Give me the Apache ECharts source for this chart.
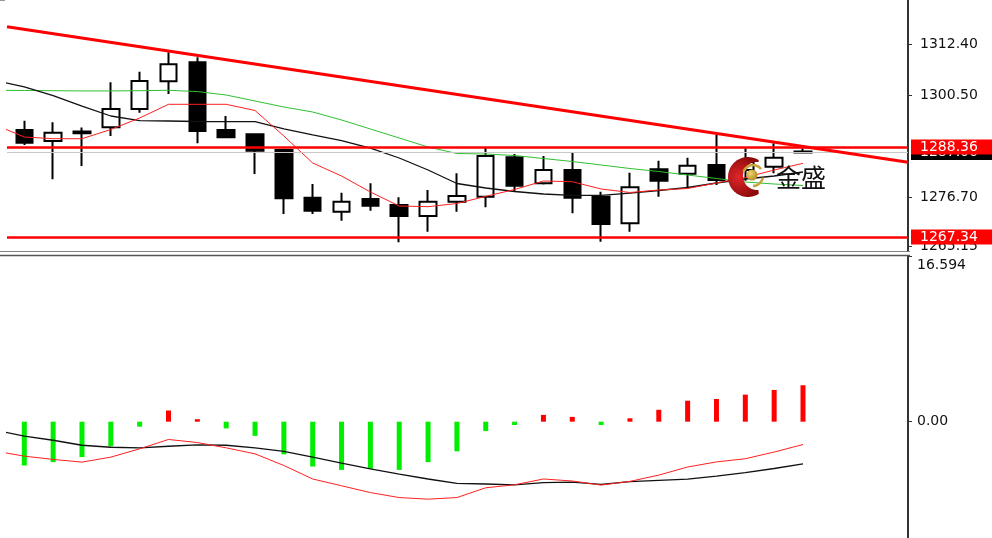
<!DOCTYPE html>
<html><head><meta charset="utf-8">
<script src="https://cdn.jsdelivr.net/npm/echarts@6/dist/echarts.min.js"></script>
<style>html,body{margin:0;padding:0;background:#fff}#c{width:992px;height:538px}</style>
</head><body><div id="c"></div>
<script>
// ---- data ----
const candleIndex = [0,1,2,3,4,5,6,7,8,9,10,11,12,13,14,15,16,17,18,19,20,21,22,23,24,25,26,27];
const opens  = [1292.33,1289.77,1292.00,1292.96,1297.23,1303.70,1308.13,1292.33,1291.33,1287.67,1276.54,1273.27,1276.24,1274.84,1272.27,1275.60,1276.77,1285.97,1279.90,1283.00,1276.77,1270.57,1283.16,1282.14,1284.17,1283.00,1283.77,1287.30];
const closes = [1289.37,1291.70,1291.60,1297.23,1303.77,1307.66,1292.10,1290.63,1287.50,1276.40,1273.50,1275.60,1274.67,1272.27,1275.60,1276.94,1286.27,1279.34,1283.00,1276.54,1270.40,1278.97,1280.50,1284.00,1280.67,1284.90,1285.87,1287.06];
const lows   = [1288.83,1280.83,1283.93,1290.93,1296.37,1300.73,1289.23,1290.40,1282.07,1272.74,1272.74,1271.17,1273.50,1266.13,1268.60,1273.27,1274.30,1277.94,1279.60,1272.90,1266.27,1268.60,1276.77,1278.73,1279.50,1280.50,1282.23,1287.00];
const highs  = [1294.50,1294.13,1292.90,1303.46,1305.94,1310.46,1309.30,1295.60,1291.40,1287.97,1279.74,1277.70,1279.90,1276.63,1278.34,1282.23,1288.30,1286.74,1286.27,1287.04,1277.94,1282.37,1285.17,1285.87,1291.17,1288.07,1289.23,1288.10];

// moving averages (index -1 is the bar just off the left edge)
const maIndex = [-1,0,1,2,3,4,5,6,7,8,9,10,11,12,13,14,15,16,17,18,19,20,21,22,23,24,25,26,27];
const maFast  = [1293.50,1290.70,1290.30,1290.30,1292.45,1295.13,1298.33,1298.33,1298.33,1296.88,1290.93,1284.63,1281.60,1277.87,1274.60,1274.44,1275.18,1276.86,1278.45,1280.43,1280.27,1278.57,1277.75,1278.33,1278.68,1279.97,1281.25,1283.00,1284.56];
const maMid   = [1303.88,1302.37,1300.38,1297.93,1295.60,1294.50,1294.43,1294.32,1294.27,1294.27,1292.57,1291.17,1289.88,1288.13,1285.80,1283.00,1279.85,1278.80,1277.98,1277.40,1277.10,1277.10,1277.60,1278.22,1278.92,1279.97,1280.90,1281.60,1282.53];
const maSlow  = [1301.60,1301.55,1301.50,1301.45,1301.45,1301.50,1301.60,1301.30,1300.50,1299.10,1297.70,1296.53,1294.67,1292.57,1290.47,1288.37,1286.85,1286.73,1286.38,1285.68,1284.98,1284.17,1283.35,1282.65,1281.83,1281.02,1280.20,1279.73,1279.38];

// trend line end points and horizontal levels
const trendX = [-0.6, 30.641];
const trendY = [1316.44, 1284.80];
const levelPrices = [1288.36, 1267.34];
const bidPrice = 1287.06;
const priceTicks = [1312.40, 1300.50, 1276.70, 1265.15];

// MACD panel
const macdHist   = [-4.39,-4.05,-3.55,-2.46,-0.50,1.12,0.25,-0.67,-1.42,-3.27,-4.49,-4.83,-4.72,-4.83,-4.05,-2.97,-0.94,-0.33,0.68,0.48,-0.33,0.34,1.19,2.10,2.27,2.71,3.18,3.65];
const macdMain   = [-0.84,-1.45,-1.86,-2.36,-2.56,-2.62,-2.46,-2.33,-2.36,-2.62,-2.97,-3.55,-4.14,-4.72,-5.25,-5.74,-6.18,-6.24,-6.32,-6.11,-6.06,-6.28,-6.01,-5.88,-5.76,-5.45,-5.10,-4.69,-4.22];
const macdSignal = [-2.95,-3.45,-3.78,-4.05,-3.55,-2.72,-1.78,-2.09,-2.62,-3.22,-4.39,-5.74,-6.42,-7.10,-7.60,-7.76,-7.60,-6.62,-6.32,-5.74,-5.94,-6.35,-5.98,-5.35,-4.54,-4.03,-3.71,-3.04,-2.29];
const macdTicks = [16.594, 0];
const macdTickLabels = ['16.594', '0.00'];

// ---- chart ----
const X_MIN = -0.6, X_MAX = 30.641;
const FONT = 'DejaVu Sans';
const pair = (xs, ys) => xs.map((x, i) => [x, ys[i]]);
const candleData = candleIndex.map((x, i) => [x, opens[i], closes[i], lows[i], highs[i]]);

// crescent outline for the watermark logo (decoration only)
function crescentPoints(cx, cy, R, icx, icy, r, a0) {
  const pts = [];
  const n = 48;
  for (let k = 0; k <= n; k++) {
    const ang = -a0 - k * (2 * Math.PI - 2 * a0) / n;
    pts.push([cx + R * Math.cos(ang), cy + R * Math.sin(ang)]);
  }
  const end = pts[pts.length - 1], start = pts[0];
  const b1 = Math.atan2(end[1] - icy, end[0] - icx);
  const b0 = Math.atan2(start[1] - icy, start[0] - icx);
  let span = b0 - b1; if (span < 0) span += 2 * Math.PI;
  for (let k = 0; k <= n; k++) {
    const ang = b1 + span * k / n;
    pts.push([icx + r * Math.cos(ang), icy + r * Math.sin(ang)]);
  }
  return pts;
}

const chart = echarts.init(document.getElementById('c'), null, {renderer: 'canvas', width: 992, height: 538});

const redLabel = {
  show: true, position: 'end', distance: 3,
  formatter: p => Number(p.value).toFixed(2),
  color: '#ffffff', backgroundColor: '#ff0000',
  fontFamily: FONT, fontSize: 14, lineHeight: 14, padding: [1, 20, 0, 9]
};

const option = {
  animation: false,
  backgroundColor: '#ffffff',
  grid: [
    {left: 7, right: 84, top: 0, height: 251, outerBoundsMode: 'none'},
    {left: 7, right: 84, top: 256, height: 282, outerBoundsMode: 'none'}
  ],
  xAxis: [
    {type: 'value', gridIndex: 0, min: X_MIN, max: X_MAX, show: false},
    {type: 'value', gridIndex: 1, min: X_MIN, max: X_MAX, show: false}
  ],
  yAxis: [
    {
      type: 'value', gridIndex: 0, position: 'right', min: 1264.10, max: 1322.667,
      splitLine: {show: false},
      axisLine: {show: true, onZero: false, lineStyle: {color: '#333333', width: 2}},
      axisTick: {show: true, customValues: priceTicks, length: 4, lineStyle: {color: '#333333', width: 1}},
      axisLabel: {customValues: priceTicks, formatter: v => v.toFixed(2), color: '#111111',
                  fontFamily: FONT, fontSize: 14, margin: 12}
    },
    {
      type: 'value', gridIndex: 1, position: 'right', min: -11.65, max: 16.594,
      splitLine: {show: false},
      axisLine: {show: true, onZero: false, lineStyle: {color: '#333333', width: 2}},
      axisTick: {show: true, customValues: macdTicks, length: 4, lineStyle: {color: '#333333', width: 1}},
      axisLabel: {customValues: macdTicks,
                  formatter: v => { const k = macdTicks.findIndex(t => Math.abs(t - v) < 1e-6);
                                    const s = k >= 0 ? macdTickLabels[k] : String(v);
                                    return k === 0 ? '\n' + s : s; },
                  color: '#111111', fontFamily: FONT, fontSize: 14, lineHeight: 18, margin: 9}
    }
  ],
  series: [
    { // bid line (under the candles)
      name: 'bid', type: 'line', xAxisIndex: 0, yAxisIndex: 0, data: [], z: 1, silent: true,
      markLine: {
        silent: true, symbol: 'none', animation: false,
        lineStyle: {color: '#c8c8c8', width: 1, type: 'solid'},
        label: {show: true, position: 'end', distance: 3, formatter: p => Number(p.value).toFixed(2),
                color: '#ffffff', backgroundColor: '#000000', fontFamily: FONT, fontSize: 14,
                lineHeight: 14, padding: [1, 20, 0, 9]},
        emphasis: {disabled: true},
        data: [{yAxis: bidPrice}]
      }
    },
    {
      name: 'price', type: 'candlestick', xAxisIndex: 0, yAxisIndex: 0, z: 3,
      dimensions: ['idx', 'open', 'close', 'lowest', 'highest'],
      encode: {x: 0, y: [1, 2, 3, 4]},
      data: candleData, barWidth: 17, silent: true,
      itemStyle: {color: '#ffffff', color0: '#000000', borderColor: '#000000', borderColor0: '#000000',
                  borderColorDoji: '#000000', borderWidth: 2}
    },
    {name: 'maSlow', type: 'line', xAxisIndex: 0, yAxisIndex: 0, z: 4, data: pair(maIndex, maSlow),
     symbol: 'none', showSymbol: false, silent: true, lineStyle: {color: '#2fc02f', width: 1}},
    {name: 'maMid', type: 'line', xAxisIndex: 0, yAxisIndex: 0, z: 4, data: pair(maIndex, maMid),
     symbol: 'none', showSymbol: false, silent: true, lineStyle: {color: '#111111', width: 1.3}},
    {name: 'maFast', type: 'line', xAxisIndex: 0, yAxisIndex: 0, z: 4, data: pair(maIndex, maFast),
     symbol: 'none', showSymbol: false, silent: true, lineStyle: {color: '#ff2020', width: 1}},
    { // trend line + horizontal levels
      name: 'trend', type: 'line', xAxisIndex: 0, yAxisIndex: 0, z: 6, data: pair(trendX, trendY),
      symbol: 'none', showSymbol: false, silent: true, lineStyle: {color: '#ff0000', width: 3},
      markLine: {
        silent: true, symbol: 'none', animation: false,
        lineStyle: {color: '#ff0000', width: 2.5, type: 'solid'},
        label: redLabel,
        emphasis: {disabled: true},
        data: levelPrices.map(p => ({yAxis: p}))
      }
    },
    {
      name: 'hist', type: 'bar', xAxisIndex: 1, yAxisIndex: 1, z: 3, barWidth: 5, silent: true,
      data: pair(candleIndex, macdHist),
      itemStyle: {color: p => (p.value[1] >= 0 ? '#ff0000' : '#00ee00')}
    },
    {name: 'macd', type: 'line', xAxisIndex: 1, yAxisIndex: 1, z: 4, data: pair(maIndex, macdMain),
     symbol: 'none', showSymbol: false, silent: true, lineStyle: {color: '#111111', width: 1.3}},
    {name: 'signal', type: 'line', xAxisIndex: 1, yAxisIndex: 1, z: 4, data: pair(maIndex, macdSignal),
     symbol: 'none', showSymbol: false, silent: true, lineStyle: {color: '#ff2020', width: 1}}
  ],
  graphic: [
    {type: 'line', silent: true, z: 50, shape: {x1: 0, y1: 251.5, x2: 910, y2: 251.5}, style: {stroke: '#808080', lineWidth: 1}},
    {type: 'line', silent: true, z: 50, shape: {x1: 0, y1: 255.5, x2: 910, y2: 255.5}, style: {stroke: '#555555', lineWidth: 1.5}},
    {type: 'line', silent: true, z: 50, shape: {x1: 0, y1: 0.5, x2: 5, y2: 0.5}, style: {stroke: '#999999', lineWidth: 1}},
    // watermark logo
    {type: 'polygon', silent: true, z: 100,
     shape: {points: crescentPoints(748, 177, 20, 757, 176, 14, 1.0)},
     style: {fill: new echarts.graphic.RadialGradient(0.35, 0.5, 0.7, [{offset: 0, color: '#e0262a'}, {offset: 1, color: '#8e0b0b'}])}},
    {type: 'arc', silent: true, z: 101, shape: {cx: 753, cy: 175, r: 10, startAngle: Math.PI * 1.1, endAngle: Math.PI * 1.8},
     style: {stroke: '#c9a23a', lineWidth: 2.5, fill: null}},
    {type: 'arc', silent: true, z: 101, shape: {cx: 753, cy: 176, r: 10, startAngle: Math.PI * 0.05, endAngle: Math.PI * 0.5},
     style: {stroke: '#c9a23a', lineWidth: 2.5, fill: null}},
    {type: 'circle', silent: true, z: 102, shape: {cx: 752, cy: 175, r: 5.5},
     style: {fill: new echarts.graphic.RadialGradient(0.35, 0.35, 0.8, [{offset: 0, color: '#f3d36a'}, {offset: 1, color: '#a6801c'}])}},
    {type: 'text', silent: true, z: 102, style: {x: 776, y: 177, text: '金盛', fill: '#111111',
     font: '400 25px "Noto Sans CJK SC", sans-serif', verticalAlign: 'middle', align: 'left'}}
  ]
};
chart.setOption(option);
</script>
</body></html>
